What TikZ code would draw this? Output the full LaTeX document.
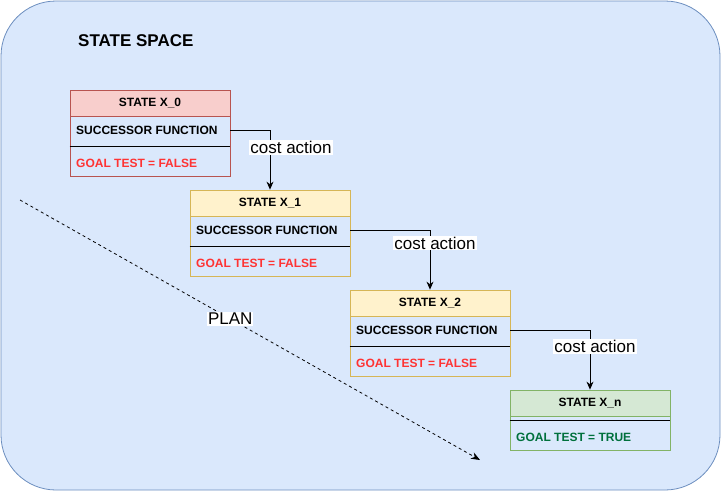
\documentclass[tikz,border=0pt]{standalone}
\usepackage{fontspec}
\setmainfont{Liberation Sans}
\usetikzlibrary{arrows.meta}
\definecolor{bgfill}{HTML}{DAE8FC}
\definecolor{bgedge}{HTML}{6C8EBF}
\definecolor{redfill}{HTML}{F8CECC}
\definecolor{rededge}{HTML}{B85450}
\definecolor{yelfill}{HTML}{FFF2CC}
\definecolor{yeledge}{HTML}{D6B656}
\definecolor{grnfill}{HTML}{D5E8D4}
\definecolor{grnedge}{HTML}{82B366}
\definecolor{redtxt}{HTML}{FF3333}
\definecolor{grntxt}{HTML}{00703C}
\tikzset{
  frame/.style={draw, rectangle, minimum width=160pt, inner sep=0pt, line width=0.8pt},
  hdr/.style={draw, rectangle, minimum width=160pt, minimum height=26pt, inner sep=0pt, line width=0.8pt, font=\fontsize{12}{14}\selectfont\bfseries},
  lbl/.style={anchor=west, inner sep=0pt, font=\fontsize{12}{14}\selectfont\bfseries},
  conn/.style={draw, line width=0.8pt, -{Stealth[length=8pt,width=7pt]}},
  clabel/.style={fill=white, inner sep=1pt, font=\fontsize{17}{19}\selectfont},
  sep/.style={draw, line width=0.8pt}
}
\begin{document}
\begin{tikzpicture}[x=1pt,y=-1pt]
\useasboundingbox (0,0) rectangle (721,491);
\node[draw=bgedge, fill=bgfill, line width=0.8pt, rectangle, rounded corners=55pt, minimum width=719pt, minimum height=489pt, inner sep=0pt] (bg) at (360.5,245.5) {};
\node[anchor=west, inner sep=0pt, font=\fontsize{17}{19}\selectfont\bfseries] (title) at (78,41) {STATE SPACE};

% X_0
\node[frame, draw=rededge, minimum height=86pt] (b0) at (150,133) {};
\node[hdr, draw=rededge, fill=redfill] (h0) at (150,103) {STATE X\_0};
\node[lbl] (s0) at (76,130) {SUCCESSOR FUNCTION};
\node[lbl, text=redtxt] (g0) at (76,163) {GOAL TEST = FALSE};
\draw[sep] (b0.west |- 0,146) -- (b0.east |- 0,146);

% X_1
\node[frame, draw=yeledge, minimum height=86pt] (b1) at (270,233) {};
\node[hdr, draw=yeledge, fill=yelfill] (h1) at (270,203) {STATE X\_1};
\node[lbl] (s1) at (196,230) {SUCCESSOR FUNCTION};
\node[lbl, text=redtxt] (g1) at (196,263) {GOAL TEST = FALSE};
\draw[sep] (b1.west |- 0,246) -- (b1.east |- 0,246);

% X_2
\node[frame, draw=yeledge, minimum height=86pt] (b2) at (430,333) {};
\node[hdr, draw=yeledge, fill=yelfill] (h2) at (430,303) {STATE X\_2};
\node[lbl] (s2) at (356,330) {SUCCESSOR FUNCTION};
\node[lbl, text=redtxt] (g2) at (356,363) {GOAL TEST = FALSE};
\draw[sep] (b2.west |- 0,346) -- (b2.east |- 0,346);

% X_n
\node[frame, draw=grnedge, minimum height=60pt] (bn) at (590,420) {};
\node[hdr, draw=grnedge, fill=grnfill] (hn) at (590,403) {STATE X\_n};
\node[lbl, text=grntxt] (gn) at (516,437) {GOAL TEST = TRUE};
\draw[sep] (bn.west |- 0,420) -- (bn.east |- 0,420);

% connectors
\draw[conn] (b0.east |- s0) -| (h1.north) node[clabel, pos=0.645, xshift=21pt] {cost action};
\draw[conn] (b1.east |- s1) -| (h2.north) node[clabel, pos=0.61, xshift=5pt] {cost action};
\draw[conn] (b2.east |- s2) -| (hn.north) node[clabel, pos=0.64, xshift=5pt] {cost action};

% plan
\coordinate (p1) at (20,200);
\coordinate (p2) at (480,460);
\draw[line width=0.8pt, dash pattern=on 3pt off 3pt, -{Stealth[length=9pt,width=7pt]}] (p1) -- (p2) node[clabel, pos=0.457] (plan) {PLAN};
\end{tikzpicture}
\end{document}
